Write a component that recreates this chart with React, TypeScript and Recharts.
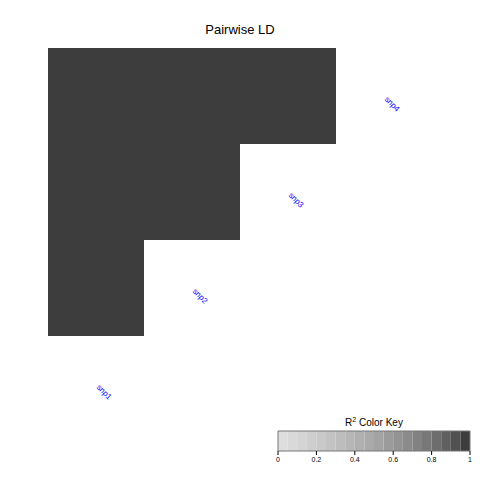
import React from 'react';
import { ComposedChart, XAxis, YAxis, ReferenceArea, Scatter } from 'recharts';

const snps = ['snp1', 'snp2', 'snp3', 'snp4'];
const pairA = ['snp1', 'snp2', 'snp3', 'snp1', 'snp2', 'snp1'];
const pairB = ['snp4', 'snp4', 'snp4', 'snp3', 'snp3', 'snp2'];
const pairR2 = [1, 1, 1, 1, 1, 1];

const keyBreaks = [0, 0.05, 0.1, 0.15, 0.2, 0.25, 0.3, 0.35, 0.4, 0.45, 0.5, 0.55, 0.6, 0.65, 0.7, 0.75, 0.8, 0.85, 0.9, 0.95, 1];
const keyTicks = [0, 0.2, 0.4, 0.6, 0.8, 1];
const keyTickLabels = ['0', '0.2', '0.4', '0.6', '0.8', '1'];

const greyLevels = [222, 217, 212, 206, 201, 195, 189, 183, 176, 170, 163, 155, 147, 139, 130, 120, 109, 96, 81, 61];
const palette = greyLevels.map((g) => `rgb(${g},${g},${g})`);

const colorFor = (r2: number) => palette[Math.min(palette.length - 1, Math.floor(r2 * palette.length))];

const n = snps.length;
const cells = pairA.map((a, k) => {
  const col = snps.indexOf(a);
  const row = n - 1 - snps.indexOf(pairB[k]);
  return { x1: col, x2: col + 1, y1: row, y2: row + 1, fill: colorFor(pairR2[k]) };
});

const labelData = snps.map((name, i) => ({ x: i + 0.5, y: n - 1 - i + 0.5, name }));
const keyData = keyBreaks.map((b) => ({ v: b, w: 0.5 }));

const font = 'Liberation Sans, Arial, Helvetica, sans-serif';

const SnpLabel = (props: any) => {
  const { cx, cy, payload } = props;
  const x = cx + 2;
  const y = cy + 2;
  return (
    <text
      x={x}
      y={y}
      fontSize={8}
      fill="#0000ff"
      fontFamily={font}
      textAnchor="start"
      dominantBaseline="central"
      transform={`rotate(45 ${x} ${y})`}
    >
      {payload.name}
    </text>
  );
};

export default function App() {
  return (
    <div style={{ position: 'absolute', left: 0, top: 0, width: 480, height: 480, background: '#fff', fontFamily: font }}>
      <div style={{ position: 'absolute', left: 0, top: 22, width: 480, textAlign: 'center', fontSize: 13, color: '#000' }}>
        Pairwise LD
      </div>
      <ComposedChart width={480} height={480} margin={{ top: 48, right: 48, bottom: 48, left: 48 }} data={labelData} style={{ position: 'absolute', left: 0, top: 0 }}>
        <XAxis type="number" dataKey="x" domain={[0, 4]} hide />
        <YAxis type="number" dataKey="y" domain={[0, 4]} reversed hide />
        {cells.map((c, i) => (
          <ReferenceArea key={i} x1={c.x1} x2={c.x2} y1={c.y1} y2={c.y2} fill={c.fill} fillOpacity={1} stroke="none" />
        ))}
        <Scatter data={labelData} dataKey="y" shape={<SnpLabel />} isAnimationActive={false} />
      </ComposedChart>
      <div style={{ position: 'absolute', left: 278, top: 416, width: 192, textAlign: 'center', fontSize: 10, color: '#000' }}>
        R<sup style={{ fontSize: 7 }}>2</sup> Color Key
      </div>
      <ComposedChart width={212} height={50} margin={{ top: 10, right: 10, bottom: 0, left: 10 }} style={{ position: 'absolute', left: 268, top: 421 }} data={keyData}>
        <XAxis
          type="number"
          dataKey="v"
          domain={[0, 1]}
          ticks={keyTicks}
          tickFormatter={(v: number) => keyTickLabels[keyTicks.indexOf(v)]}
          axisLine={false}
          tickLine={{ stroke: '#000' }}
          tickSize={4}
          height={20}
          tick={{ fontSize: 7, fill: '#000', fontFamily: font }}
          interval={0}
        />
        <YAxis type="number" dataKey="w" domain={[0, 1]} hide />
        {keyBreaks.slice(0, -1).map((b, i) => (
          <ReferenceArea key={i} x1={b} x2={keyBreaks[i + 1]} y1={0} y2={1} fill={palette[i]} fillOpacity={1} stroke="none" />
        ))}
        <ReferenceArea x1={0} x2={1} y1={0} y2={1} fill="none" stroke="#777" strokeWidth={1} />
        <Scatter dataKey="w" shape={() => null} isAnimationActive={false} />
      </ComposedChart>
    </div>
  );
}
